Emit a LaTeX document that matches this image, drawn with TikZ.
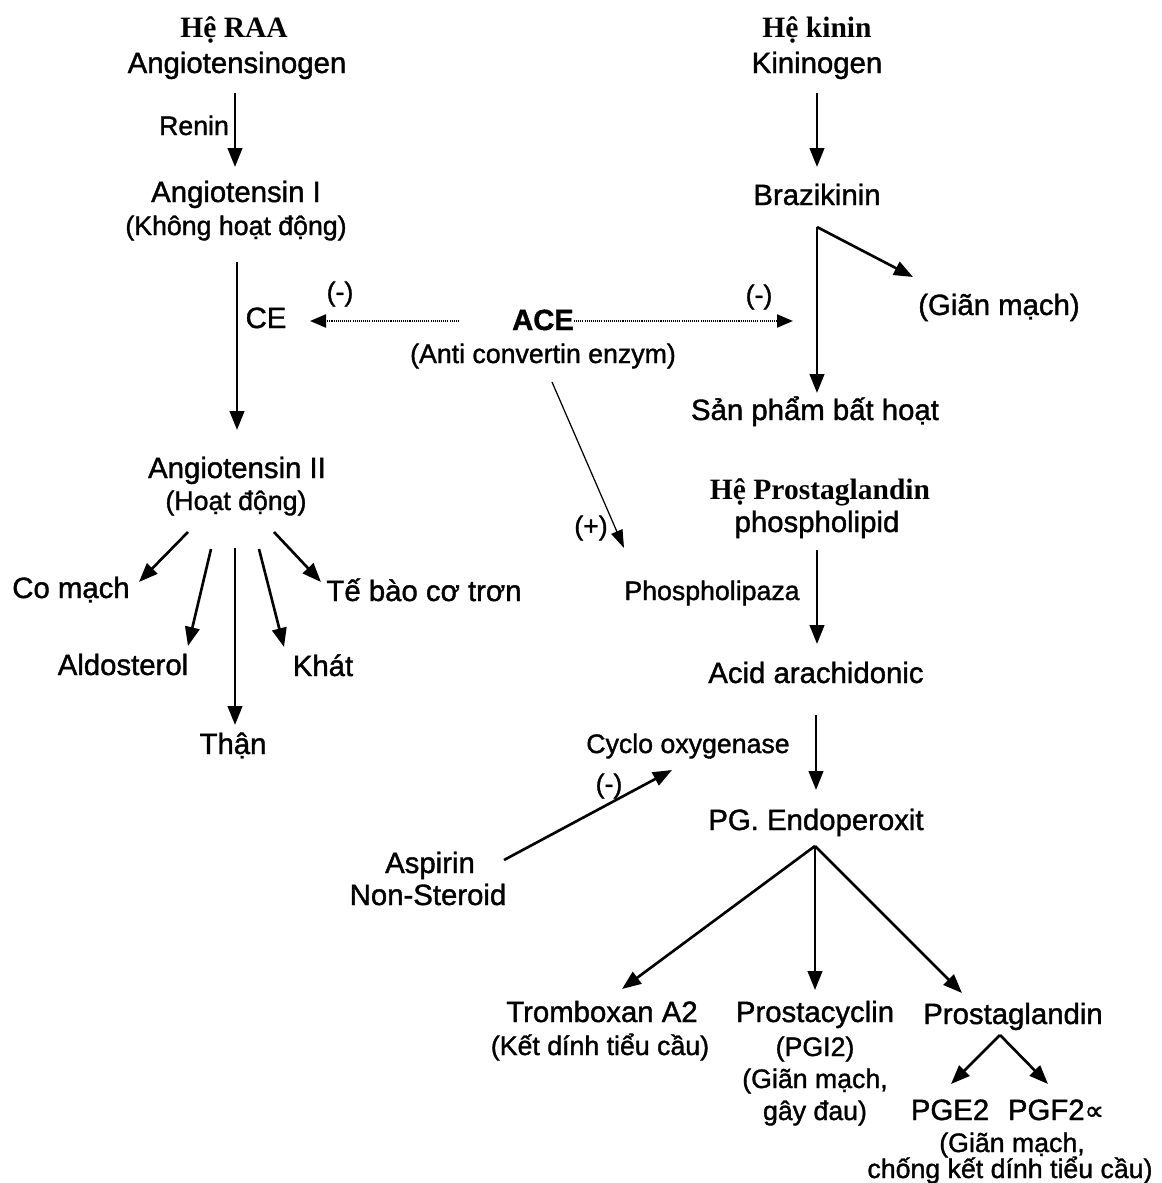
\documentclass[tikz,border=0pt]{standalone}
\usepackage{fontspec}
\setmainfont{Liberation Sans}[FakeBold=1.3]
\newfontfamily\serifbf{Liberation Serif}
\newfontfamily\dejavu{DejaVu Sans}[FakeBold=1.3]
\usetikzlibrary{arrows.meta,calc}
\begin{document}
\begin{tikzpicture}[x=0.02cm,y=-0.02cm,
  big/.style={font=\fontsize{16.7}{20}\selectfont,inner sep=0pt,anchor=base},
  sm/.style={font=\fontsize{15.2}{18}\selectfont,inner sep=0pt,anchor=base},
  ttl/.style={font=\fontsize{16.8}{20}\selectfont\serifbf\bfseries,inner sep=0pt,anchor=base},
  acefont/.style={font=\fontsize{16.6}{20}\selectfont\bfseries,inner sep=0pt,anchor=base},
  arr/.style={line width=1.5pt,-{Triangle[length=0.38cm,width=0.29cm]}},
  thinarr/.style={line width=0.7pt,-{Triangle[length=0.36cm,width=0.24cm]}},
  dotarr/.style={line width=1.2pt,dash pattern=on 0.6pt off 0.6pt,-{Triangle[length=0.32cm,width=0.26cm]}},
]
\path[use as bounding box,fill=white] (0,0) rectangle (1162,1183);

% ---- RAA system
\node[ttl] (hraa) at (234,37) {Hệ RAA};
\node[big] (angen) at (237,73) {Angiotensinogen};
\node[sm] (renin) at (194,135) {Renin};
\node[big] (angI) at (236,202) {Angiotensin I};
\node[sm] (angIs) at (236,235) {(Không hoạt động)};
\node[big] (ce) at (266,328) {CE};
\node[sm] (mL) at (340,301) {(-)};
\node[big] (ang2) at (237,478) {Angiotensin II};
\node[sm] (ang2s) at (236,510) {(Hoạt động)};
\node[big] (comach) at (71,598) {Co mạch};
\node[big] (aldo) at (123,675) {Aldosterol};
\node[big] (than) at (233,754) {Thận};
\node[big] (khat) at (323,676) {Khát};
\node[big] (tebao) at (424,601) {Tế bào cơ trơn};

% ---- ACE
\node[acefont] (ace) at (543,330) {ACE};
\node[sm] (aces) at (543,363) {(Anti convertin enzym)};
\node[sm] (mR) at (759,304) {(-)};
\node[sm] (plus) at (591,535) {(+)};

% ---- kinin system
\node[ttl] (hkinin) at (817,37) {Hệ kinin};
\node[big] (kinen) at (817,73) {Kininogen};
\node[big] (brazi) at (817,205) {Brazikinin};
\node[big] (gian) at (999,315) {(Giãn mạch)};
\node[big] (sanpham) at (815,420) {Sản phẩm bất hoạt};

% ---- prostaglandin system
\node[ttl] (hpg) at (820,499) {Hệ Prostaglandin};
\node[big] (phos) at (817,532) {phospholipid};
\node[sm] (phosz) at (712,600) {Phospholipaza};
\node[big] (acid) at (816,683) {Acid arachidonic};
\node[sm] (cyclo) at (688,753) {Cyclo oxygenase};
\node[sm] (mA) at (609,793) {(-)};
\node[big] (pge) at (816,830) {PG. Endoperoxit};
\node[big] (asp) at (430,873) {Aspirin};
\node[big] (nons) at (428,905) {Non-Steroid};
\node[big] (trom) at (602,1022) {Tromboxan A2};
\node[sm] (troms) at (600,1055) {(Kết dính tiểu cầu)};
\node[big] (prc) at (815,1022) {Prostacyclin};
\node[sm] (prc2) at (815,1056) {(PGI2)};
\node[sm] (prc3) at (815,1088) {(Giãn mạch,};
\node[sm] (prc4) at (815,1120) {gây đau)};
\node[big] (prg) at (1013,1024) {Prostaglandin};
\node[big] (pge2) at (950,1120) {PGE2};
\node[big] (pgf) at (1056,1120) {PGF2{\dejavu\fontsize{15.5}{16}\selectfont ∝}};
\node[sm] (pgs1) at (1012,1152) {(Giãn mạch,};
\node[sm] (pgs2) at (1010,1178) {chống kết dính tiểu cầu)};

% ---- connectors
\draw[arr] ($(angen.base)+(-2,20)$) -- ($(angI.base)+(-1,-35)$);
\draw[arr] ($(angIs.base)+(1,27)$) -- ($(ang2.base)+(0,-48)$);
\draw[arr] ($(ang2s.base)+(-48,22)$) -- ($(comach.base)+(68,-16)$);
\draw[arr] ($(ang2s.base)+(-25,39)$) -- ($(aldo.base)+(65,-29)$);
\draw[arr] ($(ang2s.base)+(-1,38)$) -- ($(than.base)+(2,-29)$);
\draw[arr] ($(ang2s.base)+(23,39)$) -- ($(khat.base)+(-39,-29)$);
\draw[arr] ($(ang2s.base)+(38,22)$) -- ($(tebao.base)+(-103,-19)$);

\draw[dotarr] ($(ace.base)+(-84,-9)$) -- ($(ce.base)+(44,-7)$);
\draw[dotarr] ($(ace.base)+(31,-9)$) -- ($(brazi.base)+(-24,116)$);
\draw[thinarr] ($(aces.base)+(9,19)$) -- ($(phosz.base)+(-88,-52)$);

\draw[arr] ($(kinen.base)+(0,20)$) -- ($(brazi.base)+(0,-38)$);
\coordinate (bsplit) at ($(brazi.base)+(0,22)$);
\draw[arr] (bsplit) -- ($(sanpham.base)+(2,-27)$);
\draw[arr] (bsplit) -- ($(gian.base)+(-86,-38)$);

\draw[arr] ($(phos.base)+(0,18)$) -- ($(acid.base)+(1,-39)$);
\draw[arr] ($(acid.base)+(0,32)$) -- ($(pge.base)+(0,-40)$);
\draw[arr] ($(asp.base)+(74,-13)$) -- ($(cyclo.base)+(-16,17)$);

\coordinate (papex) at ($(pge.base)+(-1,16)$);
\draw[arr] (papex) -- ($(trom.base)+(20,-33)$);
\draw[arr] (papex) -- ($(prc.base)+(0,-32)$);
\draw[arr] (papex) -- ($(prg.base)+(-51,-31)$);

\coordinate (gapex) at ($(prg.base)+(-13,11)$);
\draw[arr] (gapex) -- ($(pge2.base)+(1,-36)$);
\draw[arr] (gapex) -- ($(pgf.base)+(-8,-36)$);
\end{tikzpicture}
\end{document}
